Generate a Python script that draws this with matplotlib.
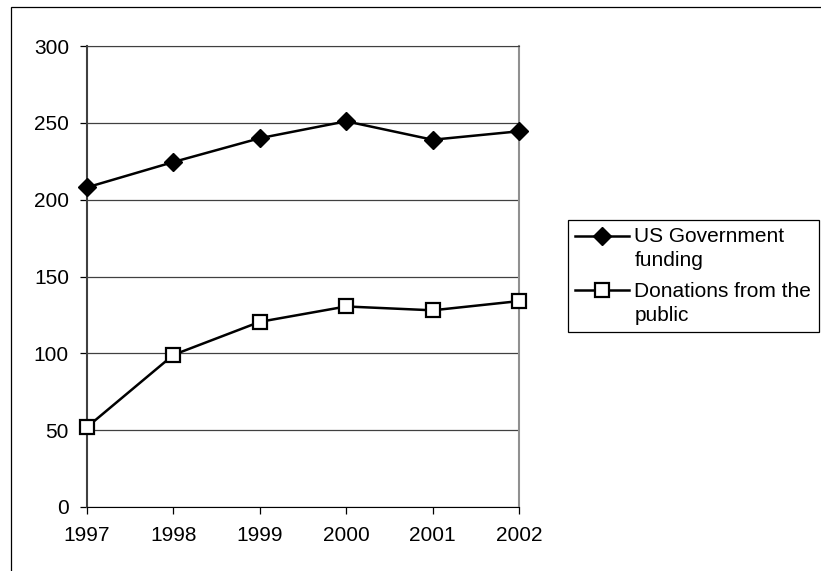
import matplotlib
matplotlib.use("Agg")
import matplotlib.pyplot as plt
from matplotlib.patches import Rectangle
from matplotlib.legend_handler import HandlerLine2D
from matplotlib.transforms import Affine2D

years = [1997, 1998, 1999, 2000, 2001, 2002]
gov_funding = [208, 224.5, 240, 251, 239, 244.5]
donations = [52, 99, 120.5, 130.5, 128, 134]
yticks = [0, 50, 100, 150, 200, 250, 300]

plt.rcParams['font.family'] = ['Liberation Sans', 'DejaVu Sans']


class FirstLineHandler(HandlerLine2D):
    # put the legend symbol next to the first line of a two-line label
    def create_artists(self, legend, orig_handle, xdescent, ydescent,
                       width, height, fontsize, trans):
        trans = Affine2D().translate(0, 9.5) + trans
        return super().create_artists(legend, orig_handle, xdescent, ydescent,
                                      width, height, fontsize, trans)


fig = plt.figure(figsize=(8.21, 5.71), dpi=100)
ax = fig.add_axes([87/821, 1 - 507/571, (519 - 87)/821, (507 - 46)/571])

# outer chart frame
fig.patches.append(Rectangle((11/821, -0.05), 1.2, 1 - 7/571 + 0.05,
                             transform=fig.transFigure, fill=False,
                             edgecolor='black', linewidth=0.9))

ax.plot(years, gov_funding, color='black', lw=1.8, marker='D', ms=9,
        mfc='black', mec='black', clip_on=False, zorder=3,
        label='US Government\nfunding')
ax.plot(years, donations, color='black', lw=1.8, marker='s', ms=10,
        mfc='white', mec='black', mew=1.6, clip_on=False, zorder=3,
        label='Donations from the\npublic')

ax.set_xlim(1997, 2002)
ax.set_ylim(0, 300)
ax.set_xticks(years)
ax.set_xticklabels([str(y) for y in years])
ax.set_yticks(yticks)
ax.yaxis.grid(True, color='#404040', lw=0.9)
ax.set_axisbelow(True)

ax.tick_params(axis='both', direction='out', length=5, width=0.9,
               labelsize=15, colors='black')
ax.tick_params(axis='y', pad=8)
ax.tick_params(axis='x', pad=9)

ax.spines['top'].set_color('#404040')
ax.spines['right'].set_color('#909090')
ax.spines['right'].set_linewidth(1.5)
ax.spines['left'].set_color('#404040')
ax.spines['left'].set_linewidth(1.5)
ax.spines['bottom'].set_color('black')

leg = fig.legend(loc='center left', bbox_to_anchor=(568/821, 1 - 276/571),
                 fontsize=15, frameon=True, fancybox=False,
                 edgecolor='black', framealpha=1, handlelength=2.6,
                 handletextpad=0.24, borderpad=0.35, labelspacing=0.55,
                 borderaxespad=0, handler_map={plt.Line2D: FirstLineHandler()})
leg.get_frame().set_linewidth(0.9)
for t in leg.get_texts():
    t.set_linespacing(1.36)

fig.savefig('out.png', dpi=100)
